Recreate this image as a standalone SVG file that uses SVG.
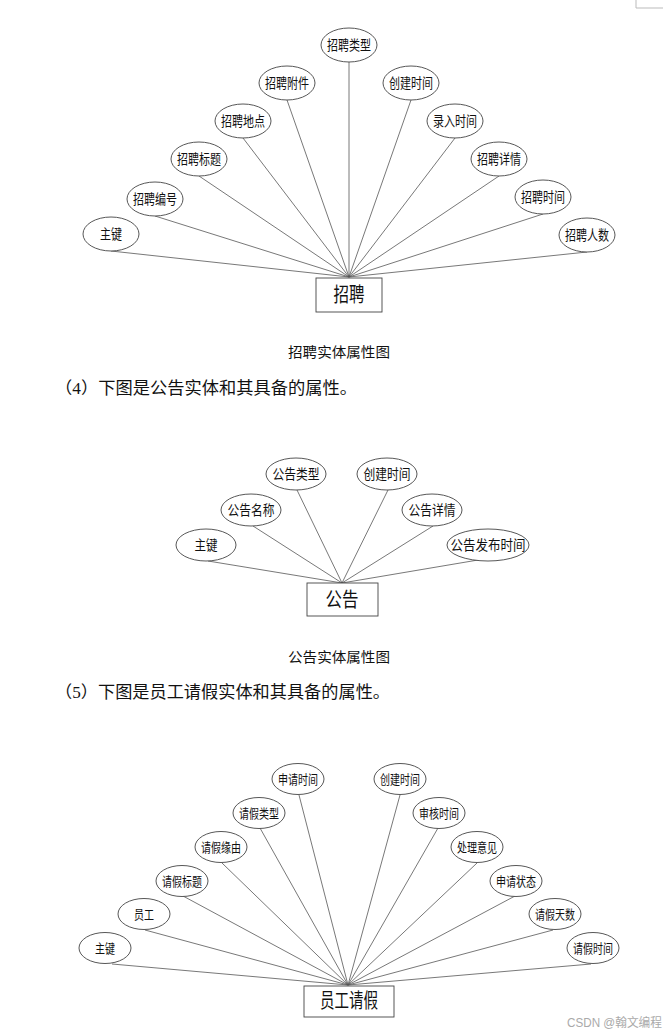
<svg xmlns="http://www.w3.org/2000/svg" width="670" height="1036" viewBox="0 0 670 1036">
<style>
.bg{fill:#fff}
.att ellipse{fill:#fff;stroke:#444;stroke-width:0.9}
.ent rect{fill:#fff;stroke:#444;stroke-width:0.9}
.conn line{stroke:#555;stroke-width:0.8}
.lbl{font-family:"Noto Sans CJK SC","Noto Sans",sans-serif;font-size:14px;fill:#111;text-anchor:middle}
.sm{font-size:13px}
.big{font-size:20px}
.cap{font-family:"Noto Sans CJK SC",sans-serif;font-size:14px;fill:#111;text-anchor:middle}
.para{font-family:"Liberation Serif","Noto Sans CJK SC",serif;font-size:16.5px;fill:#111}
.wm{font-family:"Liberation Sans","Noto Sans CJK SC",sans-serif;font-size:12px;fill:#aaa}
</style>
<rect class="bg" x="0" y="0" width="670" height="1036"/>
<path d="M636 0 V8 H663" fill="none" stroke="#bbb" stroke-width="1"/>

<!-- Diagram 1 connectors -->
<g id="conn1" class="conn">
<line x1="111" y1="251" x2="349" y2="277"/>
<line x1="155" y1="216" x2="349" y2="277"/>
<line x1="199" y1="176" x2="349" y2="277"/>
<line x1="243" y1="138" x2="349" y2="277"/>
<line x1="287" y1="100" x2="349" y2="277"/>
<line x1="349" y1="62" x2="349" y2="277"/>
<line x1="411" y1="100" x2="349" y2="277"/>
<line x1="455" y1="138" x2="349" y2="277"/>
<line x1="499" y1="176" x2="349" y2="277"/>
<line x1="543" y1="214" x2="349" y2="277"/>
<line x1="587" y1="252" x2="349" y2="277"/>
</g>
<g id="zp-zhujian" class="att"><ellipse cx="111" cy="234" rx="28" ry="17"/><text class="lbl" x="111" y="239" textLength="22" lengthAdjust="spacingAndGlyphs">主键</text></g>
<g id="zp-bianhao" class="att"><ellipse cx="155" cy="199" rx="28" ry="17"/><text class="lbl" x="155" y="204" textLength="44" lengthAdjust="spacingAndGlyphs">招聘编号</text></g>
<g id="zp-biaoti" class="att"><ellipse cx="199" cy="159" rx="28" ry="17"/><text class="lbl" x="199" y="164" textLength="44" lengthAdjust="spacingAndGlyphs">招聘标题</text></g>
<g id="zp-didian" class="att"><ellipse cx="243" cy="121" rx="28" ry="17"/><text class="lbl" x="243" y="126" textLength="44" lengthAdjust="spacingAndGlyphs">招聘地点</text></g>
<g id="zp-fujian" class="att"><ellipse cx="287" cy="83" rx="28" ry="17"/><text class="lbl" x="287" y="88" textLength="44" lengthAdjust="spacingAndGlyphs">招聘附件</text></g>
<g id="zp-leixing" class="att"><ellipse cx="349" cy="45" rx="28" ry="17"/><text class="lbl" x="349" y="50" textLength="44" lengthAdjust="spacingAndGlyphs">招聘类型</text></g>
<g id="zp-chuangjian" class="att"><ellipse cx="411" cy="83" rx="28" ry="17"/><text class="lbl" x="411" y="88" textLength="44" lengthAdjust="spacingAndGlyphs">创建时间</text></g>
<g id="zp-luru" class="att"><ellipse cx="455" cy="121" rx="28" ry="17"/><text class="lbl" x="455" y="126" textLength="44" lengthAdjust="spacingAndGlyphs">录入时间</text></g>
<g id="zp-xiangqing" class="att"><ellipse cx="499" cy="159" rx="28" ry="17"/><text class="lbl" x="499" y="164" textLength="44" lengthAdjust="spacingAndGlyphs">招聘详情</text></g>
<g id="zp-shijian" class="att"><ellipse cx="543" cy="197" rx="28" ry="17"/><text class="lbl" x="543" y="202" textLength="44" lengthAdjust="spacingAndGlyphs">招聘时间</text></g>
<g id="zp-renshu" class="att"><ellipse cx="587" cy="235" rx="28" ry="17"/><text class="lbl" x="587" y="240" textLength="44" lengthAdjust="spacingAndGlyphs">招聘人数</text></g>
<g id="zp-entity" class="ent"><rect x="316" y="278" width="66" height="34"/><text class="lbl big" x="349" y="302" textLength="31" lengthAdjust="spacingAndGlyphs">招聘</text></g>

<text class="cap" x="339" y="357" textLength="102" lengthAdjust="spacingAndGlyphs">招聘实体属性图</text>
<text class="para" x="55" y="394" textLength="302" lengthAdjust="spacingAndGlyphs">（4）下图是公告实体和其具备的属性。</text>

<!-- Diagram 2 connectors -->
<g id="conn2" class="conn">
<line x1="208" y1="561" x2="342" y2="583"/>
<line x1="253" y1="526" x2="342" y2="583"/>
<line x1="297" y1="490" x2="342" y2="583"/>
<line x1="388" y1="490" x2="342" y2="583"/>
<line x1="433" y1="526" x2="342" y2="583"/>
<line x1="478" y1="560" x2="342" y2="583"/>
</g>
<g id="gg-zhujian" class="att"><ellipse cx="206" cy="545" rx="30" ry="16"/><text class="lbl" x="206" y="550" textLength="23" lengthAdjust="spacingAndGlyphs">主键</text></g>
<g id="gg-mingcheng" class="att"><ellipse cx="251" cy="510" rx="30" ry="16"/><text class="lbl" x="251" y="515" textLength="47" lengthAdjust="spacingAndGlyphs">公告名称</text></g>
<g id="gg-leixing" class="att"><ellipse cx="296" cy="474" rx="30" ry="16"/><text class="lbl" x="296" y="479" textLength="47" lengthAdjust="spacingAndGlyphs">公告类型</text></g>
<g id="gg-chuangjian" class="att"><ellipse cx="387" cy="474" rx="30" ry="16"/><text class="lbl" x="387" y="479" textLength="47" lengthAdjust="spacingAndGlyphs">创建时间</text></g>
<g id="gg-xiangqing" class="att"><ellipse cx="432" cy="510" rx="30" ry="16"/><text class="lbl" x="432" y="515" textLength="47" lengthAdjust="spacingAndGlyphs">公告详情</text></g>
<g id="gg-fabu" class="att"><ellipse cx="488" cy="545" rx="41" ry="16"/><text class="lbl" x="488" y="550" textLength="75" lengthAdjust="spacingAndGlyphs">公告发布时间</text></g>
<g id="gg-entity" class="ent"><rect x="307" y="583" width="71" height="33"/><text class="lbl big" x="342" y="607" textLength="33" lengthAdjust="spacingAndGlyphs">公告</text></g>

<text class="cap" x="339" y="662" textLength="102" lengthAdjust="spacingAndGlyphs">公告实体属性图</text>
<text class="para" x="55" y="698" textLength="335" lengthAdjust="spacingAndGlyphs">（5）下图是员工请假实体和其具备的属性。</text>

<!-- Diagram 3 connectors -->
<g id="conn3" class="conn">
<line x1="112" y1="964" x2="348" y2="985"/>
<line x1="145" y1="930" x2="348" y2="985"/>
<line x1="183" y1="896" x2="348" y2="985"/>
<line x1="222" y1="863" x2="348" y2="985"/>
<line x1="260" y1="828" x2="348" y2="985"/>
<line x1="299" y1="795" x2="348" y2="985"/>
<line x1="400" y1="795" x2="348" y2="985"/>
<line x1="438" y1="828" x2="348" y2="985"/>
<line x1="477" y1="863" x2="348" y2="985"/>
<line x1="515" y1="896" x2="348" y2="985"/>
<line x1="553" y1="930" x2="348" y2="985"/>
<line x1="591" y1="964" x2="348" y2="985"/>
</g>
<g id="qj-zhujian" class="att"><ellipse cx="105" cy="948" rx="26" ry="15.5"/><text class="lbl sm" x="105" y="953" textLength="20" lengthAdjust="spacingAndGlyphs">主键</text></g>
<g id="qj-yuangong" class="att"><ellipse cx="144" cy="914" rx="26" ry="15.5"/><text class="lbl sm" x="144" y="919" textLength="20" lengthAdjust="spacingAndGlyphs">员工</text></g>
<g id="qj-biaoti" class="att"><ellipse cx="182" cy="881" rx="26" ry="15.5"/><text class="lbl sm" x="182" y="886" textLength="40" lengthAdjust="spacingAndGlyphs">请假标题</text></g>
<g id="qj-yuanyou" class="att"><ellipse cx="221" cy="847" rx="26" ry="15.5"/><text class="lbl sm" x="221" y="852" textLength="40" lengthAdjust="spacingAndGlyphs">请假缘由</text></g>
<g id="qj-leixing" class="att"><ellipse cx="259" cy="813" rx="26" ry="15.5"/><text class="lbl sm" x="259" y="818" textLength="40" lengthAdjust="spacingAndGlyphs">请假类型</text></g>
<g id="qj-shenqing" class="att"><ellipse cx="298" cy="779" rx="26" ry="15.5"/><text class="lbl sm" x="298" y="784" textLength="40" lengthAdjust="spacingAndGlyphs">申请时间</text></g>
<g id="qj-chuangjian" class="att"><ellipse cx="400" cy="779" rx="26" ry="15.5"/><text class="lbl sm" x="400" y="784" textLength="40" lengthAdjust="spacingAndGlyphs">创建时间</text></g>
<g id="qj-shenhe" class="att"><ellipse cx="439" cy="813" rx="26" ry="15.5"/><text class="lbl sm" x="439" y="818" textLength="40" lengthAdjust="spacingAndGlyphs">审核时间</text></g>
<g id="qj-yijian" class="att"><ellipse cx="477" cy="847" rx="26" ry="15.5"/><text class="lbl sm" x="477" y="852" textLength="40" lengthAdjust="spacingAndGlyphs">处理意见</text></g>
<g id="qj-zhuangtai" class="att"><ellipse cx="516" cy="881" rx="26" ry="15.5"/><text class="lbl sm" x="516" y="886" textLength="40" lengthAdjust="spacingAndGlyphs">申请状态</text></g>
<g id="qj-tianshu" class="att"><ellipse cx="555" cy="914" rx="26" ry="15.5"/><text class="lbl sm" x="555" y="919" textLength="40" lengthAdjust="spacingAndGlyphs">请假天数</text></g>
<g id="qj-shijian" class="att"><ellipse cx="593" cy="948" rx="26" ry="15.5"/><text class="lbl sm" x="593" y="953" textLength="40" lengthAdjust="spacingAndGlyphs">请假时间</text></g>
<g id="qj-entity" class="ent"><rect x="304" y="986" width="90" height="31"/><text class="lbl big" x="349" y="1008" font-size="18" textLength="58" lengthAdjust="spacingAndGlyphs">员工请假</text></g>

<text class="wm" x="567" y="1027" textLength="95" lengthAdjust="spacingAndGlyphs">CSDN @翰文编程</text>
</svg>
